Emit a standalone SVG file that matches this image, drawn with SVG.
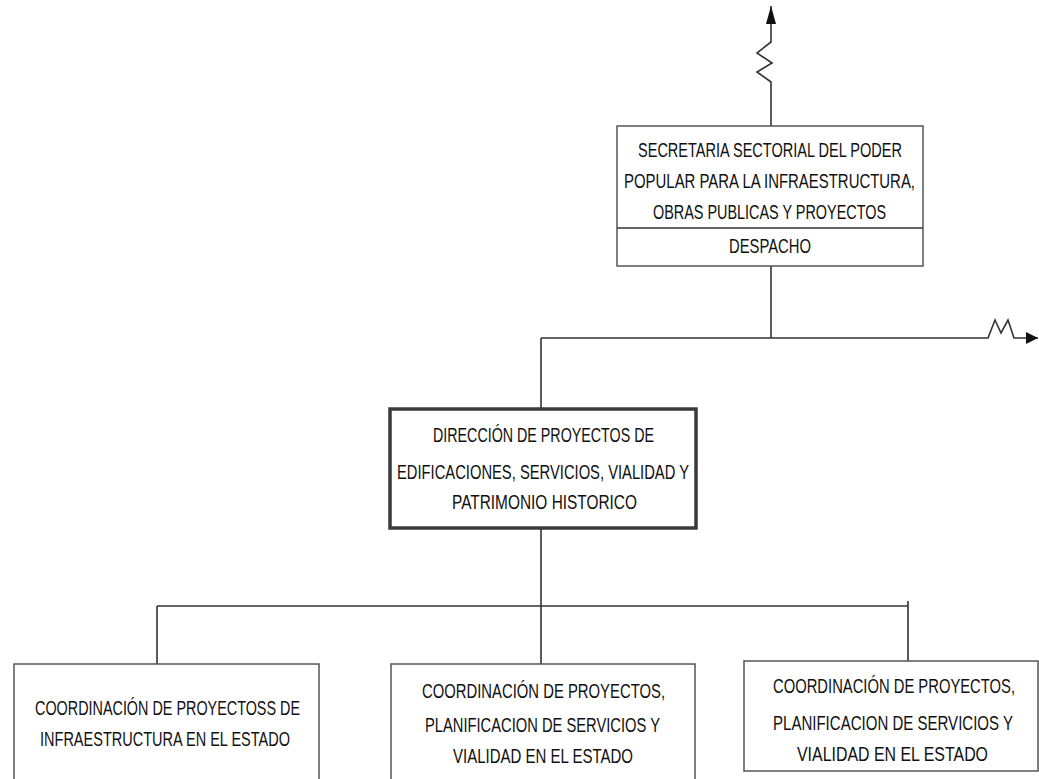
<svg xmlns="http://www.w3.org/2000/svg" width="1039" height="779" viewBox="0 0 1039 779">
<style>
  .box{fill:#ffffff;stroke:#555555;stroke-width:1.5}
  .boxb{fill:#ffffff;stroke:#3a3a3a;stroke-width:3.5}
  .ln{fill:none;stroke:#333333;stroke-width:1.6}
  .t{font-family:"Liberation Sans",Arial,sans-serif;font-size:20px;fill:#111111;text-anchor:middle}
</style>
<defs>
  <marker id="arrV" markerUnits="userSpaceOnUse" markerWidth="20" markerHeight="12" refX="18" refY="5" orient="auto">
    <path d="M0,0 L18,5 L0,10 Z" fill="#111111"/>
  </marker>
  <marker id="arrH" markerUnits="userSpaceOnUse" markerWidth="14" markerHeight="14" refX="12" refY="6" orient="auto">
    <path d="M0,0 L12,6 L0,12 Z" fill="#111111"/>
  </marker>
</defs>
<rect width="1039" height="779" fill="#ffffff"/>
<g id="connectors">
  <polyline class="ln" points="771,126 771,82 757,72 772,63 757,53 771,42 771,6" marker-end="url(#arrV)"/>
  <line class="ln" x1="771" y1="266" x2="771" y2="338"/>
  <polyline class="ln" points="541,338 988,338 995,320 1001,333 1008,320 1014,338 1038,338" marker-end="url(#arrH)"/>
  <line class="ln" x1="541" y1="338" x2="541" y2="409"/>
  <line class="ln" x1="541" y1="528" x2="541" y2="664"/>
  <line class="ln" x1="157" y1="606" x2="908" y2="606"/>
  <line class="ln" x1="157" y1="606" x2="157" y2="670"/>
  <line class="ln" x1="908" y1="601" x2="908" y2="665"/>
</g>
<g id="secretaria">
  <rect class="box" x="617" y="126" width="306" height="140"/>
  <line class="ln" x1="617" y1="228" x2="923" y2="228" stroke="#222222"/>
  <text class="t" x="770" y="157" textLength="264" lengthAdjust="spacingAndGlyphs">SECRETARIA SECTORIAL DEL PODER</text>
  <text class="t" x="769.5" y="188" textLength="291" lengthAdjust="spacingAndGlyphs">POPULAR PARA LA INFRAESTRUCTURA,</text>
  <text class="t" x="769.5" y="219" textLength="233" lengthAdjust="spacingAndGlyphs">OBRAS PUBLICAS Y PROYECTOS</text>
  <text class="t" x="770" y="253" textLength="82" lengthAdjust="spacingAndGlyphs">DESPACHO</text>
</g>
<g id="direccion">
  <rect class="boxb" x="390" y="409" width="306" height="119"/>
  <text class="t" x="543.5" y="442" textLength="221" lengthAdjust="spacingAndGlyphs">DIRECCIÓN DE PROYECTOS DE</text>
  <text class="t" x="543" y="479" textLength="292" lengthAdjust="spacingAndGlyphs">EDIFICACIONES, SERVICIOS, VIALIDAD Y</text>
  <text class="t" x="544.5" y="509" textLength="185" lengthAdjust="spacingAndGlyphs">PATRIMONIO HISTORICO</text>
</g>
<g id="coord1">
  <rect class="box" x="14" y="664" width="305" height="120"/>
  <text class="t" x="167.5" y="715" textLength="265" lengthAdjust="spacingAndGlyphs">COORDINACIÓN DE PROYECTOSS DE</text>
  <text class="t" x="165" y="746" textLength="250" lengthAdjust="spacingAndGlyphs">INFRAESTRUCTURA EN EL ESTADO</text>
</g>
<g id="coord2">
  <rect class="box" x="391" y="664" width="304" height="120"/>
  <text class="t" x="543.5" y="698" textLength="243" lengthAdjust="spacingAndGlyphs">COORDINACIÓN DE PROYECTOS,</text>
  <text class="t" x="542.5" y="732" textLength="235" lengthAdjust="spacingAndGlyphs">PLANIFICACION DE SERVICIOS Y</text>
  <text class="t" x="543" y="763" textLength="180" lengthAdjust="spacingAndGlyphs">VIALIDAD EN EL ESTADO</text>
</g>
<g id="coord3">
  <rect class="box" x="744" y="661" width="294" height="110"/>
  <g transform="translate(894,0) scale(0.8,1)">
    <text class="t" x="0" y="693" textLength="302.5" lengthAdjust="spacingAndGlyphs">COORDINACIÓN DE PROYECTOS,</text>
  </g>
  <g transform="translate(893,0) scale(0.8,1)">
    <text class="t" x="0" y="730" textLength="300" lengthAdjust="spacingAndGlyphs">PLANIFICACION DE SERVICIOS Y</text>
  </g>
  <text class="t" x="892.5" y="761" textLength="191" lengthAdjust="spacingAndGlyphs">VIALIDAD EN EL ESTADO</text>
</g>
</svg>
